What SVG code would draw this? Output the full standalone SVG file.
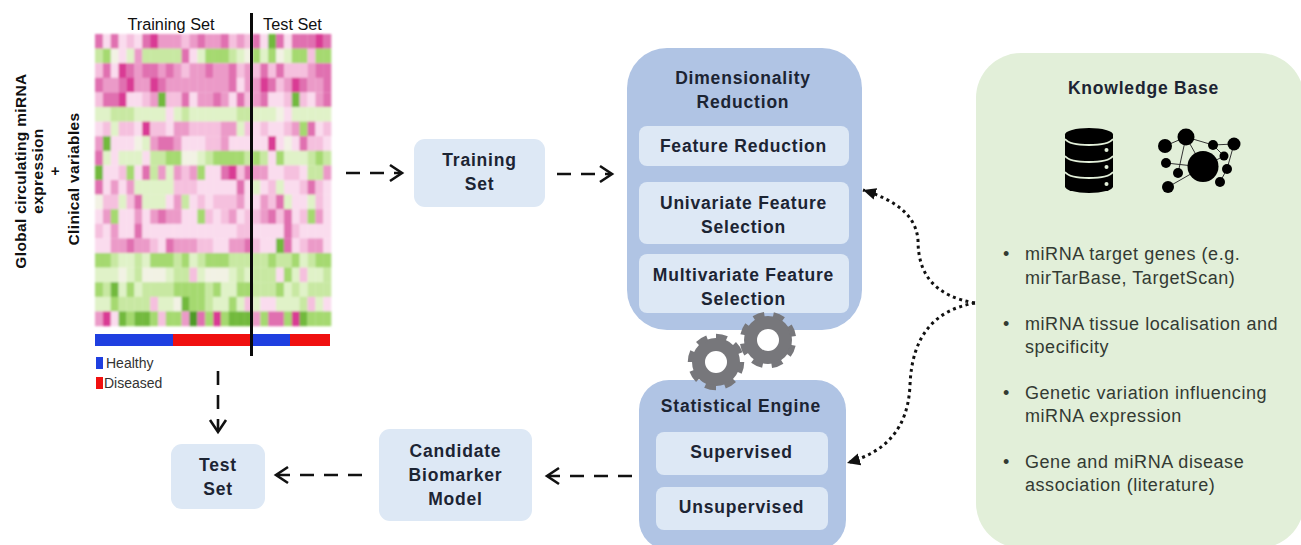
<svg xmlns="http://www.w3.org/2000/svg" width="1301" height="545" viewBox="0 0 1301 545">
<style>
text{font-family:"Liberation Sans",Arial,sans-serif;fill:#1c2433}
.b{font-weight:700;font-size:17.5px;letter-spacing:.8px;text-anchor:middle}
.r{font-size:18px;letter-spacing:.55px;fill:#333a33}
.s{font-size:16.3px;fill:#111}
.lb{font-weight:700;font-size:15.5px;letter-spacing:.35px;text-anchor:middle;fill:#111}
.outer{fill:#b0c4e4}
.inner{fill:#dde8f5}
.hm rect{width:8.1px;height:14.8px}
.i{fill:#fadcee}.j{fill:#f5c0de}.k{fill:#eb9ac8}.l{fill:#e070b0}.m{fill:#d93a94}.o{fill:#f2f2e4}
.a{fill:#e0f2c8}.c1{fill:#c8e8a2}.c2{fill:#a5d970}.d{fill:#72b93c}.e{fill:#4e9a26}
.dash{fill:none;stroke:#111;stroke-width:2.6;stroke-dasharray:14 10}
.head{fill:none;stroke:#111;stroke-width:2.6}
.dot{fill:none;stroke:#111;stroke-width:3;stroke-dasharray:3 3.6}
.gear{fill:#77777b}
.teeth{fill:none;stroke:#77777b;stroke-width:5.5;stroke-dasharray:5.5 4.5}
.net line{stroke:#333;stroke-width:1}
</style>
<defs>
<marker id="tri" markerUnits="userSpaceOnUse" markerWidth="16" markerHeight="14" refX="13" refY="7" orient="auto"><path d="M0 1 L13 7 L0 13 Z" fill="#111"/></marker>
<filter id="soft" x="-2%" y="-2%" width="104%" height="104%"><feGaussianBlur stdDeviation="0.8"/></filter>
<filter id="soft2" x="-5%" y="-5%" width="110%" height="110%"><feGaussianBlur stdDeviation="0.4"/></filter>
</defs>

<g id="heatmap">
<g class="hm" filter="url(#soft)">
<g transform="translate(0 34)"><rect x="95" class="l"/><rect x="102.9" class="i"/><rect x="110.7" class="l"/><rect x="118.6" class="i"/><rect x="126.5" class="j"/><rect x="134.4" class="i"/><rect x="142.2" class="l"/><rect x="150.1" class="m"/><rect x="158" class="k"/><rect x="165.8" class="k"/><rect x="173.7" class="k"/><rect x="181.6" class="j"/><rect x="189.4" class="k"/><rect x="197.3" class="l"/><rect x="205.2" class="k"/><rect x="213.1" class="k"/><rect x="220.9" class="l"/><rect x="228.8" class="j"/><rect x="236.7" class="k"/><rect x="244.5" class="j"/><rect x="252.4" class="l"/><rect x="260.3" class="i"/><rect x="268.1" class="d"/><rect x="276" class="l"/><rect x="283.9" class="i"/><rect x="291.8" class="l"/><rect x="299.6" class="l"/><rect x="307.5" class="l"/><rect x="315.4" class="m"/><rect x="323.2" class="l"/></g>
<g transform="translate(0 48.6)"><rect x="95" class="c1"/><rect x="102.9" class="c2"/><rect x="110.7" class="o"/><rect x="118.6" class="i"/><rect x="126.5" class="a"/><rect x="134.4" class="k"/><rect x="142.2" class="c1"/><rect x="150.1" class="c1"/><rect x="158" class="c1"/><rect x="165.8" class="c1"/><rect x="173.7" class="c1"/><rect x="181.6" class="l"/><rect x="189.4" class="i"/><rect x="197.3" class="a"/><rect x="205.2" class="c2"/><rect x="213.1" class="c2"/><rect x="220.9" class="c2"/><rect x="228.8" class="c1"/><rect x="236.7" class="a"/><rect x="244.5" class="o"/><rect x="252.4" class="c2"/><rect x="260.3" class="a"/><rect x="268.1" class="c2"/><rect x="276" class="o"/><rect x="283.9" class="a"/><rect x="291.8" class="c2"/><rect x="299.6" class="c2"/><rect x="307.5" class="j"/><rect x="315.4" class="c2"/><rect x="323.2" class="c2"/></g>
<g transform="translate(0 63.2)"><rect x="95" class="j"/><rect x="102.9" class="l"/><rect x="110.7" class="i"/><rect x="118.6" class="m"/><rect x="126.5" class="l"/><rect x="134.4" class="k"/><rect x="142.2" class="l"/><rect x="150.1" class="l"/><rect x="158" class="k"/><rect x="165.8" class="l"/><rect x="173.7" class="k"/><rect x="181.6" class="j"/><rect x="189.4" class="k"/><rect x="197.3" class="k"/><rect x="205.2" class="l"/><rect x="213.1" class="k"/><rect x="220.9" class="k"/><rect x="228.8" class="l"/><rect x="236.7" class="j"/><rect x="244.5" class="k"/><rect x="252.4" class="j"/><rect x="260.3" class="l"/><rect x="268.1" class="j"/><rect x="276" class="l"/><rect x="283.9" class="j"/><rect x="291.8" class="j"/><rect x="299.6" class="j"/><rect x="307.5" class="k"/><rect x="315.4" class="l"/><rect x="323.2" class="l"/></g>
<g transform="translate(0 77.8)"><rect x="95" class="l"/><rect x="102.9" class="k"/><rect x="110.7" class="k"/><rect x="118.6" class="l"/><rect x="126.5" class="m"/><rect x="134.4" class="k"/><rect x="142.2" class="k"/><rect x="150.1" class="m"/><rect x="158" class="l"/><rect x="165.8" class="k"/><rect x="173.7" class="k"/><rect x="181.6" class="k"/><rect x="189.4" class="k"/><rect x="197.3" class="k"/><rect x="205.2" class="k"/><rect x="213.1" class="k"/><rect x="220.9" class="k"/><rect x="228.8" class="l"/><rect x="236.7" class="i"/><rect x="244.5" class="k"/><rect x="252.4" class="k"/><rect x="260.3" class="m"/><rect x="268.1" class="l"/><rect x="276" class="j"/><rect x="283.9" class="k"/><rect x="291.8" class="m"/><rect x="299.6" class="l"/><rect x="307.5" class="k"/><rect x="315.4" class="k"/><rect x="323.2" class="l"/></g>
<g transform="translate(0 92.4)"><rect x="95" class="j"/><rect x="102.9" class="l"/><rect x="110.7" class="l"/><rect x="118.6" class="m"/><rect x="126.5" class="i"/><rect x="134.4" class="i"/><rect x="142.2" class="j"/><rect x="150.1" class="k"/><rect x="158" class="d"/><rect x="165.8" class="j"/><rect x="173.7" class="j"/><rect x="181.6" class="l"/><rect x="189.4" class="i"/><rect x="197.3" class="k"/><rect x="205.2" class="k"/><rect x="213.1" class="l"/><rect x="220.9" class="k"/><rect x="228.8" class="i"/><rect x="236.7" class="l"/><rect x="244.5" class="j"/><rect x="252.4" class="k"/><rect x="260.3" class="l"/><rect x="268.1" class="i"/><rect x="276" class="i"/><rect x="283.9" class="j"/><rect x="291.8" class="d"/><rect x="299.6" class="j"/><rect x="307.5" class="i"/><rect x="315.4" class="k"/><rect x="323.2" class="l"/></g>
<g transform="translate(0 107)"><rect x="95" class="a"/><rect x="102.9" class="a"/><rect x="110.7" class="c1"/><rect x="118.6" class="c1"/><rect x="126.5" class="c1"/><rect x="134.4" class="a"/><rect x="142.2" class="a"/><rect x="150.1" class="a"/><rect x="158" class="a"/><rect x="165.8" class="i"/><rect x="173.7" class="a"/><rect x="181.6" class="c1"/><rect x="189.4" class="a"/><rect x="197.3" class="a"/><rect x="205.2" class="a"/><rect x="213.1" class="a"/><rect x="220.9" class="a"/><rect x="228.8" class="a"/><rect x="236.7" class="c1"/><rect x="244.5" class="c1"/><rect x="252.4" class="a"/><rect x="260.3" class="a"/><rect x="268.1" class="a"/><rect x="276" class="o"/><rect x="283.9" class="i"/><rect x="291.8" class="a"/><rect x="299.6" class="a"/><rect x="307.5" class="a"/><rect x="315.4" class="a"/><rect x="323.2" class="a"/></g>
<g transform="translate(0 121.6)"><rect x="95" class="i"/><rect x="102.9" class="j"/><rect x="110.7" class="a"/><rect x="118.6" class="j"/><rect x="126.5" class="j"/><rect x="134.4" class="i"/><rect x="142.2" class="m"/><rect x="150.1" class="j"/><rect x="158" class="j"/><rect x="165.8" class="i"/><rect x="173.7" class="k"/><rect x="181.6" class="k"/><rect x="189.4" class="j"/><rect x="197.3" class="j"/><rect x="205.2" class="j"/><rect x="213.1" class="j"/><rect x="220.9" class="k"/><rect x="228.8" class="k"/><rect x="236.7" class="a"/><rect x="244.5" class="j"/><rect x="252.4" class="i"/><rect x="260.3" class="j"/><rect x="268.1" class="i"/><rect x="276" class="i"/><rect x="283.9" class="j"/><rect x="291.8" class="k"/><rect x="299.6" class="c2"/><rect x="307.5" class="l"/><rect x="315.4" class="i"/><rect x="323.2" class="j"/></g>
<g transform="translate(0 136.2)"><rect x="95" class="k"/><rect x="102.9" class="d"/><rect x="110.7" class="i"/><rect x="118.6" class="i"/><rect x="126.5" class="i"/><rect x="134.4" class="o"/><rect x="142.2" class="a"/><rect x="150.1" class="k"/><rect x="158" class="l"/><rect x="165.8" class="l"/><rect x="173.7" class="k"/><rect x="181.6" class="i"/><rect x="189.4" class="i"/><rect x="197.3" class="i"/><rect x="205.2" class="j"/><rect x="213.1" class="j"/><rect x="220.9" class="k"/><rect x="228.8" class="i"/><rect x="236.7" class="i"/><rect x="244.5" class="i"/><rect x="252.4" class="i"/><rect x="260.3" class="i"/><rect x="268.1" class="m"/><rect x="276" class="i"/><rect x="283.9" class="o"/><rect x="291.8" class="i"/><rect x="299.6" class="l"/><rect x="307.5" class="j"/><rect x="315.4" class="j"/><rect x="323.2" class="i"/></g>
<g transform="translate(0 150.8)"><rect x="95" class="l"/><rect x="102.9" class="a"/><rect x="110.7" class="i"/><rect x="118.6" class="a"/><rect x="126.5" class="a"/><rect x="134.4" class="a"/><rect x="142.2" class="i"/><rect x="150.1" class="c1"/><rect x="158" class="c1"/><rect x="165.8" class="c2"/><rect x="173.7" class="c2"/><rect x="181.6" class="o"/><rect x="189.4" class="o"/><rect x="197.3" class="a"/><rect x="205.2" class="c1"/><rect x="213.1" class="c2"/><rect x="220.9" class="c2"/><rect x="228.8" class="c2"/><rect x="236.7" class="c2"/><rect x="244.5" class="c1"/><rect x="252.4" class="c2"/><rect x="260.3" class="c1"/><rect x="268.1" class="i"/><rect x="276" class="c2"/><rect x="283.9" class="a"/><rect x="291.8" class="a"/><rect x="299.6" class="a"/><rect x="307.5" class="c1"/><rect x="315.4" class="c2"/><rect x="323.2" class="c1"/></g>
<g transform="translate(0 165.4)"><rect x="95" class="d"/><rect x="102.9" class="i"/><rect x="110.7" class="i"/><rect x="118.6" class="j"/><rect x="126.5" class="c2"/><rect x="134.4" class="i"/><rect x="142.2" class="l"/><rect x="150.1" class="c1"/><rect x="158" class="k"/><rect x="165.8" class="a"/><rect x="173.7" class="k"/><rect x="181.6" class="j"/><rect x="189.4" class="k"/><rect x="197.3" class="c2"/><rect x="205.2" class="i"/><rect x="213.1" class="i"/><rect x="220.9" class="l"/><rect x="228.8" class="m"/><rect x="236.7" class="j"/><rect x="244.5" class="l"/><rect x="252.4" class="k"/><rect x="260.3" class="k"/><rect x="268.1" class="i"/><rect x="276" class="i"/><rect x="283.9" class="j"/><rect x="291.8" class="j"/><rect x="299.6" class="i"/><rect x="307.5" class="c1"/><rect x="315.4" class="c1"/><rect x="323.2" class="k"/></g>
<g transform="translate(0 180)"><rect x="95" class="l"/><rect x="102.9" class="i"/><rect x="110.7" class="k"/><rect x="118.6" class="i"/><rect x="126.5" class="k"/><rect x="134.4" class="a"/><rect x="142.2" class="a"/><rect x="150.1" class="a"/><rect x="158" class="a"/><rect x="165.8" class="a"/><rect x="173.7" class="j"/><rect x="181.6" class="j"/><rect x="189.4" class="j"/><rect x="197.3" class="i"/><rect x="205.2" class="i"/><rect x="213.1" class="i"/><rect x="220.9" class="i"/><rect x="228.8" class="i"/><rect x="236.7" class="l"/><rect x="244.5" class="i"/><rect x="252.4" class="a"/><rect x="260.3" class="i"/><rect x="268.1" class="j"/><rect x="276" class="a"/><rect x="283.9" class="i"/><rect x="291.8" class="i"/><rect x="299.6" class="j"/><rect x="307.5" class="l"/><rect x="315.4" class="j"/><rect x="323.2" class="i"/></g>
<g transform="translate(0 194.6)"><rect x="95" class="o"/><rect x="102.9" class="j"/><rect x="110.7" class="j"/><rect x="118.6" class="a"/><rect x="126.5" class="j"/><rect x="134.4" class="l"/><rect x="142.2" class="a"/><rect x="150.1" class="a"/><rect x="158" class="a"/><rect x="165.8" class="i"/><rect x="173.7" class="k"/><rect x="181.6" class="c1"/><rect x="189.4" class="i"/><rect x="197.3" class="j"/><rect x="205.2" class="i"/><rect x="213.1" class="j"/><rect x="220.9" class="j"/><rect x="228.8" class="j"/><rect x="236.7" class="k"/><rect x="244.5" class="i"/><rect x="252.4" class="i"/><rect x="260.3" class="k"/><rect x="268.1" class="j"/><rect x="276" class="l"/><rect x="283.9" class="a"/><rect x="291.8" class="i"/><rect x="299.6" class="i"/><rect x="307.5" class="a"/><rect x="315.4" class="j"/><rect x="323.2" class="i"/></g>
<g transform="translate(0 209.2)"><rect x="95" class="i"/><rect x="102.9" class="k"/><rect x="110.7" class="c2"/><rect x="118.6" class="i"/><rect x="126.5" class="i"/><rect x="134.4" class="k"/><rect x="142.2" class="i"/><rect x="150.1" class="k"/><rect x="158" class="l"/><rect x="165.8" class="k"/><rect x="173.7" class="k"/><rect x="181.6" class="i"/><rect x="189.4" class="i"/><rect x="197.3" class="c2"/><rect x="205.2" class="j"/><rect x="213.1" class="i"/><rect x="220.9" class="j"/><rect x="228.8" class="k"/><rect x="236.7" class="i"/><rect x="244.5" class="j"/><rect x="252.4" class="j"/><rect x="260.3" class="k"/><rect x="268.1" class="l"/><rect x="276" class="j"/><rect x="283.9" class="l"/><rect x="291.8" class="i"/><rect x="299.6" class="j"/><rect x="307.5" class="c2"/><rect x="315.4" class="k"/><rect x="323.2" class="i"/></g>
<g transform="translate(0 223.8)"><rect x="95" class="j"/><rect x="102.9" class="i"/><rect x="110.7" class="k"/><rect x="118.6" class="i"/><rect x="126.5" class="i"/><rect x="134.4" class="l"/><rect x="142.2" class="i"/><rect x="150.1" class="i"/><rect x="158" class="i"/><rect x="165.8" class="i"/><rect x="173.7" class="i"/><rect x="181.6" class="i"/><rect x="189.4" class="i"/><rect x="197.3" class="i"/><rect x="205.2" class="i"/><rect x="213.1" class="i"/><rect x="220.9" class="i"/><rect x="228.8" class="i"/><rect x="236.7" class="j"/><rect x="244.5" class="j"/><rect x="252.4" class="i"/><rect x="260.3" class="i"/><rect x="268.1" class="i"/><rect x="276" class="i"/><rect x="283.9" class="l"/><rect x="291.8" class="j"/><rect x="299.6" class="i"/><rect x="307.5" class="i"/><rect x="315.4" class="i"/><rect x="323.2" class="i"/></g>
<g transform="translate(0 238.4)"><rect x="95" class="i"/><rect x="102.9" class="i"/><rect x="110.7" class="k"/><rect x="118.6" class="k"/><rect x="126.5" class="l"/><rect x="134.4" class="k"/><rect x="142.2" class="k"/><rect x="150.1" class="j"/><rect x="158" class="i"/><rect x="165.8" class="l"/><rect x="173.7" class="k"/><rect x="181.6" class="k"/><rect x="189.4" class="k"/><rect x="197.3" class="j"/><rect x="205.2" class="j"/><rect x="213.1" class="i"/><rect x="220.9" class="i"/><rect x="228.8" class="k"/><rect x="236.7" class="k"/><rect x="244.5" class="l"/><rect x="252.4" class="j"/><rect x="260.3" class="i"/><rect x="268.1" class="i"/><rect x="276" class="d"/><rect x="283.9" class="l"/><rect x="291.8" class="i"/><rect x="299.6" class="j"/><rect x="307.5" class="k"/><rect x="315.4" class="k"/><rect x="323.2" class="i"/></g>
<g transform="translate(0 253)"><rect x="95" class="c2"/><rect x="102.9" class="c2"/><rect x="110.7" class="c1"/><rect x="118.6" class="a"/><rect x="126.5" class="a"/><rect x="134.4" class="c1"/><rect x="142.2" class="a"/><rect x="150.1" class="c2"/><rect x="158" class="c2"/><rect x="165.8" class="c2"/><rect x="173.7" class="c1"/><rect x="181.6" class="c2"/><rect x="189.4" class="a"/><rect x="197.3" class="c1"/><rect x="205.2" class="c2"/><rect x="213.1" class="c2"/><rect x="220.9" class="c2"/><rect x="228.8" class="c1"/><rect x="236.7" class="c1"/><rect x="244.5" class="c1"/><rect x="252.4" class="c1"/><rect x="260.3" class="c1"/><rect x="268.1" class="c2"/><rect x="276" class="c1"/><rect x="283.9" class="c1"/><rect x="291.8" class="c2"/><rect x="299.6" class="a"/><rect x="307.5" class="c1"/><rect x="315.4" class="c2"/><rect x="323.2" class="c2"/></g>
<g transform="translate(0 267.6)"><rect x="95" class="a"/><rect x="102.9" class="a"/><rect x="110.7" class="a"/><rect x="118.6" class="o"/><rect x="126.5" class="a"/><rect x="134.4" class="c1"/><rect x="142.2" class="o"/><rect x="150.1" class="o"/><rect x="158" class="o"/><rect x="165.8" class="a"/><rect x="173.7" class="c1"/><rect x="181.6" class="c1"/><rect x="189.4" class="j"/><rect x="197.3" class="a"/><rect x="205.2" class="o"/><rect x="213.1" class="o"/><rect x="220.9" class="o"/><rect x="228.8" class="a"/><rect x="236.7" class="c1"/><rect x="244.5" class="a"/><rect x="252.4" class="c1"/><rect x="260.3" class="c1"/><rect x="268.1" class="c1"/><rect x="276" class="i"/><rect x="283.9" class="c2"/><rect x="291.8" class="a"/><rect x="299.6" class="j"/><rect x="307.5" class="a"/><rect x="315.4" class="a"/><rect x="323.2" class="c1"/></g>
<g transform="translate(0 282.2)"><rect x="95" class="c2"/><rect x="102.9" class="c1"/><rect x="110.7" class="d"/><rect x="118.6" class="a"/><rect x="126.5" class="c2"/><rect x="134.4" class="a"/><rect x="142.2" class="c1"/><rect x="150.1" class="c1"/><rect x="158" class="c1"/><rect x="165.8" class="c1"/><rect x="173.7" class="c2"/><rect x="181.6" class="c2"/><rect x="189.4" class="c2"/><rect x="197.3" class="c2"/><rect x="205.2" class="c1"/><rect x="213.1" class="c2"/><rect x="220.9" class="a"/><rect x="228.8" class="a"/><rect x="236.7" class="c2"/><rect x="244.5" class="c2"/><rect x="252.4" class="c1"/><rect x="260.3" class="c1"/><rect x="268.1" class="c1"/><rect x="276" class="c2"/><rect x="283.9" class="a"/><rect x="291.8" class="c1"/><rect x="299.6" class="a"/><rect x="307.5" class="c1"/><rect x="315.4" class="c1"/><rect x="323.2" class="c1"/></g>
<g transform="translate(0 296.8)"><rect x="95" class="a"/><rect x="102.9" class="a"/><rect x="110.7" class="c2"/><rect x="118.6" class="c1"/><rect x="126.5" class="c1"/><rect x="134.4" class="c1"/><rect x="142.2" class="c1"/><rect x="150.1" class="j"/><rect x="158" class="a"/><rect x="165.8" class="a"/><rect x="173.7" class="o"/><rect x="181.6" class="d"/><rect x="189.4" class="c2"/><rect x="197.3" class="c2"/><rect x="205.2" class="c1"/><rect x="213.1" class="a"/><rect x="220.9" class="a"/><rect x="228.8" class="c2"/><rect x="236.7" class="a"/><rect x="244.5" class="j"/><rect x="252.4" class="a"/><rect x="260.3" class="i"/><rect x="268.1" class="i"/><rect x="276" class="a"/><rect x="283.9" class="a"/><rect x="291.8" class="a"/><rect x="299.6" class="c1"/><rect x="307.5" class="j"/><rect x="315.4" class="a"/><rect x="323.2" class="i"/></g>
<g transform="translate(0 311.4)"><rect x="95" class="k"/><rect x="102.9" class="m"/><rect x="110.7" class="i"/><rect x="118.6" class="d"/><rect x="126.5" class="c2"/><rect x="134.4" class="d"/><rect x="142.2" class="d"/><rect x="150.1" class="c2"/><rect x="158" class="j"/><rect x="165.8" class="c2"/><rect x="173.7" class="c2"/><rect x="181.6" class="k"/><rect x="189.4" class="e"/><rect x="197.3" class="l"/><rect x="205.2" class="c2"/><rect x="213.1" class="m"/><rect x="220.9" class="c2"/><rect x="228.8" class="d"/><rect x="236.7" class="d"/><rect x="244.5" class="d"/><rect x="252.4" class="k"/><rect x="260.3" class="c2"/><rect x="268.1" class="l"/><rect x="276" class="l"/><rect x="283.9" class="c2"/><rect x="291.8" class="m"/><rect x="299.6" class="d"/><rect x="307.5" class="c2"/><rect x="315.4" class="c2"/><rect x="323.2" class="c2"/></g>
</g>
<rect x="95" y="334" width="78" height="12" fill="#1f3fe0"/>
<rect x="173" y="334" width="78" height="12" fill="#f01010"/>
<rect x="251" y="334" width="39" height="12" fill="#1f3fe0"/>
<rect x="290" y="334" width="40" height="12" fill="#f01010"/>
<line x1="251.5" y1="13" x2="251.5" y2="356" stroke="#0a0a0a" stroke-width="3"/>
<text class="s" x="171" y="30" text-anchor="middle">Training Set</text>
<text class="s" x="292.500" y="30" text-anchor="middle">Test Set</text>
<rect x="96" y="357" width="7" height="12" fill="#1f3fe0"/>
<text x="106" y="368" font-size="14" style="fill:#333">Healthy</text>
<rect x="96" y="377" width="7" height="12" fill="#f01010"/>
<text x="104" y="388" font-size="14" style="fill:#333">Diseased</text>
</g>

<g id="axis-label">
<text class="lb" transform="translate(26 171) rotate(-90)">Global circulating miRNA</text>
<text class="lb" transform="translate(43 171) rotate(-90)">expression</text>
<text class="lb" transform="translate(60 171) rotate(-90)">+</text>
<text class="lb" transform="translate(79 179) rotate(-90)">Clinical variables</text>
</g>

<g id="training-set"><rect class="inner" x="414" y="139" width="131" height="68" rx="11"/>
<text class="b" x="479.500" y="166">Training</text><text class="b" x="479.500" y="190">Set</text></g>

<g id="test-set"><rect class="inner" x="171" y="444" width="94" height="65" rx="11"/>
<text class="b" x="218" y="471">Test</text><text class="b" x="218" y="495">Set</text></g>

<g id="candidate-model"><rect class="inner" x="379" y="429" width="153" height="92" rx="11"/>
<text class="b" x="455.500" y="457">Candidate</text><text class="b" x="455.500" y="481">Biomarker</text><text class="b" x="455.500" y="505">Model</text></g>

<g id="dimensionality-reduction"><rect class="outer" x="627" y="48" width="235" height="282" rx="40"/>
<text class="b" x="743" y="84">Dimensionality</text><text class="b" x="743" y="108">Reduction</text>
<rect class="inner" x="639" y="126" width="210" height="40" rx="8"/><text class="b" x="743.500" y="152">Feature Reduction</text>
<rect class="inner" x="639" y="182" width="210" height="62" rx="8"/><text class="b" x="743.500" y="209">Univariate Feature</text><text class="b" x="743.500" y="233">Selection</text>
<rect class="inner" x="639" y="254" width="210" height="59" rx="8"/><text class="b" x="743.500" y="281">Multivariate Feature</text><text class="b" x="743.500" y="305">Selection</text></g>

<g id="statistical-engine"><rect class="outer" x="639" y="380" width="207" height="170" rx="30"/>
<text class="b" x="741" y="412">Statistical Engine</text>
<rect class="inner" x="656" y="432" width="172" height="43" rx="8"/><text class="b" x="741.500" y="458">Supervised</text>
<rect class="inner" x="656" y="487" width="172" height="43" rx="8"/><text class="b" x="741.500" y="513">Unsupervised</text></g>

<g id="gears">
<circle class="gear" cx="716" cy="362" r="24"/><circle class="teeth" cx="716" cy="362" r="25.500" pathLength="80"/><circle cx="716" cy="362" r="11" fill="#fff"/>
<circle class="gear" cx="768" cy="340" r="24"/><circle class="teeth" cx="768" cy="340" r="25.500" pathLength="80" transform="rotate(12 768 340)"/><circle cx="768" cy="340" r="11" fill="#fff"/>
</g>

<g id="knowledge-base"><rect x="976" y="53" width="328" height="495" rx="45" fill="#e2efd9"/>
<text class="b" x="1143.500" y="94">Knowledge Base</text>
<g id="database-icon" filter="url(#soft2)">
<path d="M1065 134.500a24 6.500 0 0 1 48 0v52a24 6.500 0 0 1-48 0z" fill="#050505"/>
<path d="M1065 139c6 8 42 8 48 0M1065 156c6 8 42 8 48 0M1065 172c6 8 42 8 48 0" fill="none" stroke="#e2efd9" stroke-width="1.800"/>
<circle cx="1106.500" cy="150" r="2" fill="#e2efd9"/><circle cx="1106.500" cy="167" r="2" fill="#e2efd9"/><circle cx="1106.500" cy="184" r="2" fill="#e2efd9"/>
</g>
<g id="network-icon" class="net" filter="url(#soft2)">
<line x1="1186" y1="137" x2="1165" y2="146"/><line x1="1186" y1="137" x2="1213" y2="145"/><line x1="1186" y1="137" x2="1203" y2="167"/><line x1="1186" y1="137" x2="1178" y2="173"/><line x1="1213" y1="145" x2="1234" y2="144"/><line x1="1213" y1="145" x2="1224" y2="156"/><line x1="1234" y1="144" x2="1227" y2="169"/><line x1="1227" y1="169" x2="1220" y2="182"/><line x1="1166" y1="163" x2="1203" y2="167"/><line x1="1168" y1="187" x2="1203" y2="167"/><line x1="1224" y1="156" x2="1203" y2="167"/>
<circle cx="1186" cy="137" r="8.500"/><circle cx="1165" cy="146" r="7"/><circle cx="1213" cy="145" r="5"/><circle cx="1234" cy="144" r="6.500"/><circle cx="1224" cy="156" r="4.500"/><circle cx="1166" cy="163" r="5"/><circle cx="1203" cy="166.500" r="15.500"/><circle cx="1178" cy="173" r="5"/><circle cx="1227" cy="169" r="5"/><circle cx="1220" cy="182" r="5"/><circle cx="1168" cy="187" r="6"/>
</g>
<text class="r" x="1003" y="260">•</text><text class="r" x="1025" y="260">miRNA target genes (e.g.</text><text class="r" x="1025" y="284">mirTarBase, TargetScan)</text>
<text class="r" x="1003" y="330">•</text><text class="r" x="1025" y="330">miRNA tissue localisation and</text><text class="r" x="1025" y="353">specificity</text>
<text class="r" x="1003" y="399">•</text><text class="r" x="1025" y="399">Genetic variation influencing</text><text class="r" x="1025" y="422">miRNA expression</text>
<text class="r" x="1003" y="468">•</text><text class="r" x="1025" y="468">Gene and miRNA disease</text><text class="r" x="1025" y="491">association (literature)</text>
</g>

<g id="connectors">
<path class="dash" d="M346 173H400"/><path class="head" d="M390 165L402 173L390 181"/>
<path class="dash" d="M557 174H610"/><path class="head" d="M600 166L612 174L600 182"/>
<path class="dash" d="M218 371V430"/><path class="head" d="M210 420L218 432L226 420"/>
<path class="dash" d="M362 475H278"/><path class="head" d="M288 467L276 475L288 483"/>
<path class="dash" d="M632 476H549"/><path class="head" d="M559 468L547 476L559 484"/>
<path class="dot" d="M975 303C935 296 918 275 918 240C916 215 895 200 863 190" marker-end="url(#tri)"/>
<path class="dot" d="M975 303C935 310 912 335 910 385C908 430 885 452 847 463" marker-end="url(#tri)"/>
</g>
</svg>
